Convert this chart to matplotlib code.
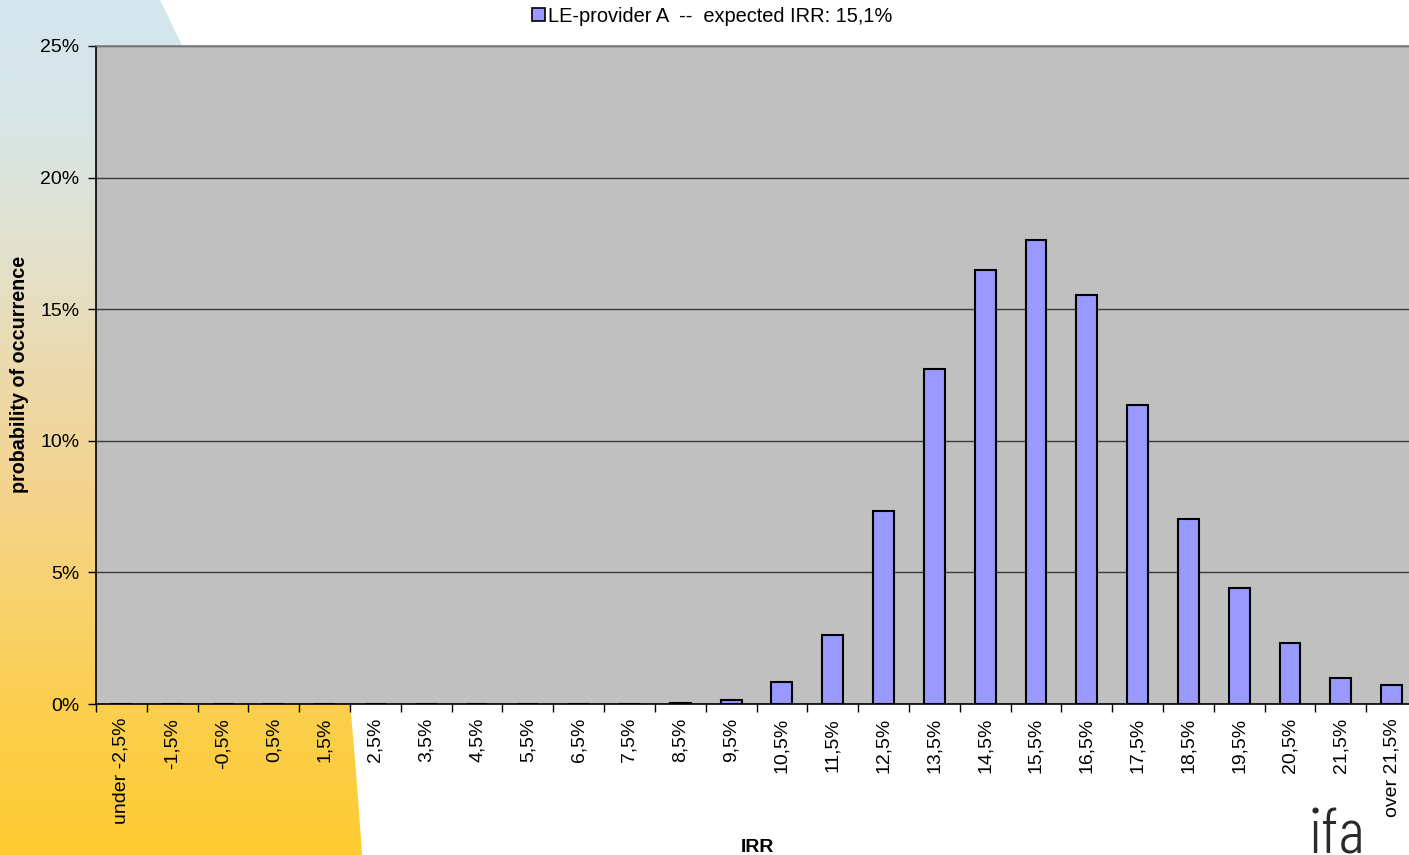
import numpy as np
import matplotlib
matplotlib.use("Agg")
import matplotlib.pyplot as plt
from matplotlib.path import Path
from matplotlib.patches import PathPatch, Patch
from matplotlib.ticker import FixedLocator, FuncFormatter

plt.rcParams['font.family'] = ['Liberation Sans', 'DejaVu Sans']

# IRR buckets and their probability of occurrence (in %)
categories = ["under -2,5%", "-1,5%", "-0,5%", "0,5%", "1,5%", "2,5%", "3,5%",
              "4,5%", "5,5%", "6,5%", "7,5%", "8,5%", "9,5%", "10,5%", "11,5%",
              "12,5%", "13,5%", "14,5%", "15,5%", "16,5%", "17,5%", "18,5%",
              "19,5%", "20,5%", "21,5%", "over 21,5%"]
probability = [0.0, 0.0, 0.0, 0.0, 0.0, 0.0, 0.0,
               0.0, 0.0, 0.0, 0.0, 0.05, 0.15, 0.85, 2.63,
               7.33, 12.74, 16.49, 17.63, 15.53, 11.37, 7.02,
               4.42, 2.32, 1.00, 0.72]
series_label = "LE-provider A  --  expected IRR: 15,1%"
y_ticks = [0, 5, 10, 15, 20, 25]

W, H = 1409, 855
fig = plt.figure(figsize=(W / 100, H / 100), dpi=100)
fig.patch.set_facecolor("white")

# decorative gradient swoosh in the background (pixel coordinates)
bg = fig.add_axes([0, 0, 1, 1], zorder=0)
bg.set_xlim(0, W)
bg.set_ylim(H, 0)
bg.axis("off")
stop_y = [0, 100, 200, 300, 400, 500, 600, 700, 855]
stop_rgb = np.array([(212, 230, 239), (214, 230, 233), (222, 227, 216),
                     (230, 222, 192), (238, 216, 165), (244, 212, 140),
                     (248, 210, 110), (251, 207, 80), (254, 204, 48)]) / 255.0
yy = np.arange(H)
grad = np.stack([np.interp(yy, stop_y, stop_rgb[:, c]) for c in range(3)], axis=-1)
grad = np.repeat(grad[:, None, :], 2, axis=1)
img = bg.imshow(grad, extent=(0, W, H, 0), aspect="auto", interpolation="bilinear")
verts = [(0, 0), (160, 0), (310, 300), (342, 555), (362, 855), (0, 855), (0, 0)]
codes = [Path.MOVETO, Path.LINETO, Path.CURVE4, Path.CURVE4, Path.CURVE4,
         Path.LINETO, Path.CLOSEPOLY]
clip = PathPatch(Path(verts, codes), transform=bg.transData, facecolor="none",
                 edgecolor="none")
bg.add_patch(clip)
img.set_clip_path(clip)

# main chart
ax = fig.add_axes([96 / W, (H - 704) / H, 1321 / W, 658 / H], zorder=1)
ax.set_facecolor("#c0c0c0")
x = np.arange(len(categories))
ax.bar(x, probability, width=0.41, color="#9999ff", edgecolor="black",
       linewidth=1.5, label=series_label, zorder=3)
ax.set_xlim(-0.5, len(categories) - 0.5)
ax.set_ylim(0, 25)
ax.set_axisbelow(True)

ax.yaxis.set_major_locator(FixedLocator(y_ticks))
ax.yaxis.set_major_formatter(FuncFormatter(lambda v, p: f"{v:.0f}%"))
ax.grid(axis="y", color="#3a3a3a", linewidth=1.0)
ax.grid(axis="x", visible=False)

ax.set_xticks(np.arange(-0.5, len(categories), 1.0))
ax.set_xticklabels([])
ax.set_xticks(x, minor=True)
ax.set_xticklabels(categories, minor=True, rotation=90, va="top", ha="center",
                   fontsize=14)
ax.tick_params(axis="x", which="major", direction="out", length=6, width=1,
               color="black")
ax.tick_params(axis="x", which="minor", length=0, pad=10)
ax.tick_params(axis="y", direction="out", length=6, width=1, color="black",
               labelsize=14, pad=6)

for side in ("left", "bottom"):
    ax.spines[side].set_color("black")
    ax.spines[side].set_linewidth(1.2)
ax.spines["top"].set_color("#808080")
ax.spines["top"].set_linewidth(1.2)
ax.spines["right"].set_visible(False)

fig.text(20 / W, 1 - 374 / H, "probability of occurrence", rotation=90,
         ha="center", va="center", fontsize=14.2, fontweight="bold")
fig.text(757 / W, 1 - 847 / H, "IRR", ha="center", va="center",
         fontsize=14, fontweight="bold")

handle = Patch(facecolor="#9999ff", edgecolor="black", linewidth=1.2)
fig.legend([handle], [series_label], loc="center",
           bbox_to_anchor=(712 / W, 1 - 16 / H), frameon=False, fontsize=14.4,
           handlelength=0.65, handleheight=0.65, handletextpad=0.15,
           borderpad=0, borderaxespad=0)

fig.text(1337 / W, 1 - 853 / H, "ifa", ha="center", va="baseline",
         fontsize=46, color="#2a2a2a", fontweight=300,
         family=["Barlow Condensed", "Liberation Sans", "DejaVu Sans"])

fig.savefig("out.png", dpi=100)
